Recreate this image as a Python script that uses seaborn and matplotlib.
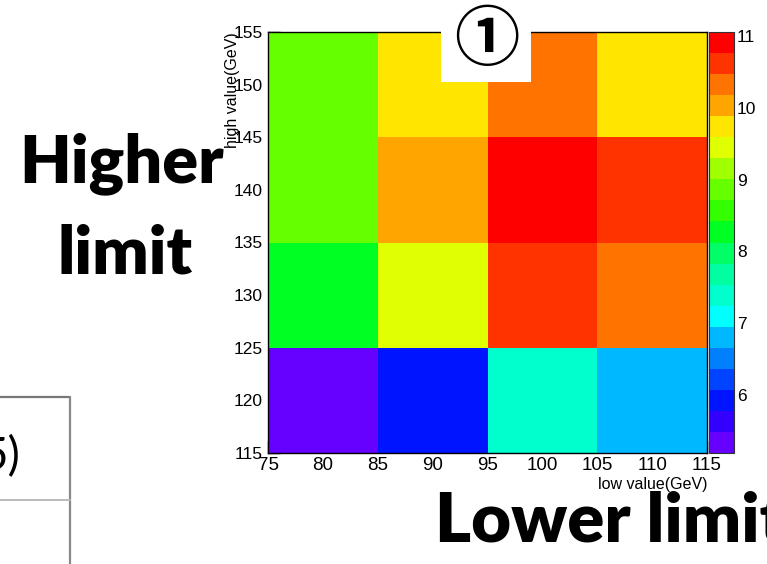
import numpy as np
import pandas as pd
import matplotlib
matplotlib.use("Agg")
import matplotlib.pyplot as plt
from matplotlib.colors import ListedColormap
from matplotlib.patches import Rectangle
from matplotlib.lines import Line2D
from matplotlib.ticker import MultipleLocator
import seaborn as sns

# Mass-window scan: bin centres (GeV) of the lower and upper cut
low_centers = [80, 90, 100, 110]
high_centers = [120, 130, 140, 150]

# Significance for each window, one list per upper-cut bin (columns follow low_centers)
sig_high_120 = [5.19, 5.90, 7.40, 6.80]
sig_high_130 = [8.25, 9.42, 10.60, 10.30]
sig_high_140 = [8.85, 10.02, 11.06, 10.60]
sig_high_150 = [8.85, 9.72, 10.30, 9.72]

cbar_ticks = [6, 7, 8, 9, 10, 11]

# 20-step rainbow palette, low to high
palette_colors = [
    "#6600ff", "#3300ff", "#0014ff", "#0044ff", "#0080ff",
    "#00b8ff", "#00ffff", "#00ffcc", "#00ffa0", "#00ff66",
    "#00ff22", "#33ff00", "#66ff00", "#a0ff00", "#e0ff00",
    "#ffe600", "#ffa500", "#ff7300", "#ff3300", "#ff0000",
]

rows = [sig_high_120, sig_high_130, sig_high_140, sig_high_150]
records = []
for hc, row in zip(high_centers, rows):
    for lc, v in zip(low_centers, row):
        records.append({"low": lc, "high": hc, "sig": v})
df = pd.DataFrame(records)
z_min, z_max = df["sig"].min(), df["sig"].max()

sns.set_theme(style="white")
plt.rcParams["font.family"] = ["Liberation Sans", "DejaVu Sans"]

W, H = 767, 564
fig = plt.figure(figsize=(W / 100, H / 100), dpi=100)
fig.patch.set_facecolor("white")


def fx(px):
    return px / W


def fy(py):
    return 1 - py / H


ax = fig.add_axes([fx(268), fy(453), fx(707) - fx(268), fy(32) - fy(453)])
cax = fig.add_axes([fx(709), fy(453), fx(734) - fx(709), fy(32) - fy(453)])

cmap = ListedColormap(palette_colors)
sns.histplot(
    data=df, x="low", y="high", weights="sig",
    binwidth=10, binrange=((75, 115), (115, 155)),
    cmap=cmap, vmin=z_min, vmax=z_max,
    cbar=True, cbar_ax=cax, ax=ax,
    edgecolor="face", linewidth=0,
)

ax.set_xlim(75, 115)
ax.set_ylim(115, 155)
for s in ax.spines.values():
    s.set_visible(True)
    s.set_color("black")
    s.set_linewidth(1.0)

ax.xaxis.set_major_locator(MultipleLocator(5))
ax.xaxis.set_minor_locator(MultipleLocator(1))
ax.yaxis.set_major_locator(MultipleLocator(5))
ax.yaxis.set_minor_locator(MultipleLocator(1))
ax.tick_params(which="both", direction="in", top=False, right=False,
               left=True, bottom=True, color="black", width=1.0)
ax.tick_params(which="major", length=8.6)
ax.tick_params(which="minor", length=4.3)
ax.tick_params(axis="x", which="major", labelsize=13.5, pad=3, labelcolor="black")
ax.tick_params(axis="y", which="major", labelsize=12.5, pad=4, labelcolor="black")

ax.set_xlabel("low value(GeV)", fontsize=11.5, color="black", loc="right")
ax.xaxis.label.set_va("center")
ax.xaxis.set_label_coords(1.0, -(484 - 453) / 421)
ax.set_ylabel("high value(GeV)", fontsize=11.5, color="black", loc="top")
ax.yaxis.label.set_va("center")
ax.yaxis.set_label_coords((232 - 268) / 439, 1.0)

cbar = ax.collections[0].colorbar
cbar.set_ticks(cbar_ticks)
cbar.ax.minorticks_off()
cbar.ax.tick_params(direction="in", length=9.5, width=1.0, color="black",
                    labelsize=12.5, pad=2, right=True, left=False,
                    labelcolor="black")
cbar.outline.set_linewidth(0.8)
cbar.outline.set_edgecolor("#333333")

# Slide overlays
big = ["Lato", "DejaVu Sans"]
fig.text(fx(122), fy(182), "Higher", ha="center", va="baseline",
         fontsize=48, fontweight="heavy", family=big, color="black", zorder=10)
fig.text(fx(125), fy(273), "limit", ha="center", va="baseline",
         fontsize=48, fontweight="heavy", family=big, color="black", zorder=10)
fig.text(fx(435), fy(541), "Lower limit", ha="left", va="baseline",
         fontsize=49.5, fontweight="heavy", family=big, color="black", zorder=10)

fig.patches.append(Rectangle((fx(441), fy(82)), fx(531) - fx(441), fy(0) - fy(82),
                             transform=fig.transFigure, facecolor="white",
                             edgecolor="none", zorder=9))
fig.text(fx(487), fy(40), "①", ha="center", va="center", fontsize=47,
         fontweight="bold", family=["Noto Sans CJK JP", "DejaVu Sans"],
         color="black", zorder=11)

# Table fragment at lower left
fig.lines.append(Line2D([fx(0), fx(70)], [fy(397), fy(397)], transform=fig.transFigure,
                        color="#777777", linewidth=1.6, zorder=5))
fig.lines.append(Line2D([fx(70), fx(70)], [fy(397), fy(564)], transform=fig.transFigure,
                        color="#888888", linewidth=1.6, zorder=5))
fig.lines.append(Line2D([fx(0), fx(70)], [fy(500), fy(500)], transform=fig.transFigure,
                        color="#bbbbbb", linewidth=1.4, zorder=5))
fig.text(fx(20), fy(470), "5)", ha="right", va="baseline", fontsize=33,
         family=big, color="black", zorder=10)

fig.savefig("out.png", dpi=100, facecolor="white")
